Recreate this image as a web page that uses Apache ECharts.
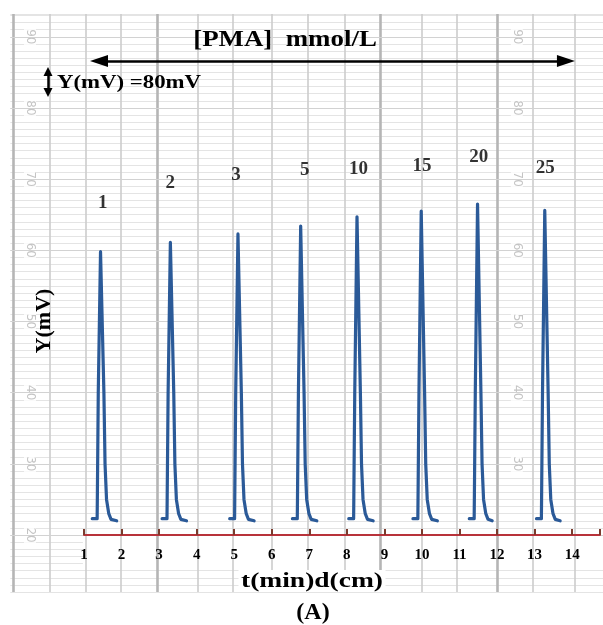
<!DOCTYPE html>
<html><head><meta charset="utf-8">
<script src="https://cdn.jsdelivr.net/npm/echarts@6/dist/echarts.min.js"></script>
<style>html,body{margin:0;padding:0;background:#fff}#c{width:603px;height:625px}</style>
</head><body><div id="c"></div>
<script>
// ---- data (t in min / d in cm, Y in mV) ----
const concentrations = ['1', '2', '3', '5', '10', '15', '20', '25'];
const labelT = [1.50, 3.30, 5.05, 6.88, 8.31, 10.00, 11.51, 13.28];
const labelY = [66.6, 69.4, 70.6, 71.2, 71.4, 71.9, 73.1, 71.6];

const trace_1  = [[1.22,22.3],[1.35,22.3],[1.355,25],[1.38,40],[1.44,59.8],[1.53,40],[1.56,30],[1.60,25],[1.66,23],[1.72,22.2],[1.87,22.0]];
const trace_2  = [[3.08,22.3],[3.21,22.3],[3.215,25],[3.24,40],[3.30,61.1],[3.39,40],[3.42,30],[3.46,25],[3.52,23],[3.58,22.2],[3.73,22.0]];
const trace_3  = [[4.88,22.3],[5.01,22.3],[5.015,25],[5.04,40],[5.10,62.3],[5.19,40],[5.22,30],[5.26,25],[5.32,23],[5.38,22.2],[5.53,22.0]];
const trace_5  = [[6.55,22.3],[6.68,22.3],[6.685,25],[6.71,40],[6.77,63.4],[6.86,40],[6.89,30],[6.93,25],[6.99,23],[7.05,22.2],[7.20,22.0]];
const trace_10 = [[8.05,22.3],[8.18,22.3],[8.185,25],[8.21,40],[8.27,64.7],[8.36,40],[8.39,30],[8.43,25],[8.49,23],[8.55,22.2],[8.70,22.0]];
const trace_15 = [[9.76,22.3],[9.89,22.3],[9.895,25],[9.92,40],[9.98,65.5],[10.07,40],[10.10,30],[10.14,25],[10.20,23],[10.26,22.2],[10.41,22.0]];
const trace_20 = [[11.26,22.3],[11.39,22.3],[11.395,25],[11.42,40],[11.48,66.5],[11.57,40],[11.60,30],[11.64,25],[11.70,23],[11.76,22.2],[11.87,22.0]];
const trace_25 = [[13.05,22.3],[13.18,22.3],[13.185,25],[13.21,40],[13.27,65.6],[13.36,40],[13.39,30],[13.43,25],[13.49,23],[13.55,22.2],[13.68,22.0]];
const traces = [trace_1, trace_2, trace_3, trace_5, trace_10, trace_15, trace_20, trace_25];

// recorder paper scale (printed on the chart paper)
const paperScaleLeft = [90, 80, 70, 60, 50, 40, 30, 20];
const paperScaleRight = [90, 80, 70, 60, 50, 40, 30];
const paperScaleLeftT = -0.43;
const paperScaleRightT = 12.46;
const paperLinesT = [0.10, 1.05, 1.98, 4.02, 4.94, 5.98, 6.93, 7.91, 9.95, 10.88, 12.89, 14.0];
const paperEdgesT = [-0.88, 2.93, 8.84, 11.93];

// annotation arrows
const concArrowT = [1.397, 13.76];
const concArrowY = 86.59;
const scaleArrowT = 0.047;
const scaleArrowY = [85.12, 82.17];

const SERIF = '"Liberation Serif", "DejaVu Serif", serif';
const chart = echarts.init(document.getElementById('c'), null, {renderer: 'canvas'});

const series = [];
// paper lines
series.push({
  type: 'line', xAxisIndex: 0, yAxisIndex: 0, data: [], silent: true, z: 1,
  markLine: {
    silent: true, symbol: 'none', label: {show: false}, animation: false,
    data: [
      ...paperLinesT.map(t => ({xAxis: t, lineStyle: {color: '#cccccc', width: 1.6, type: 'solid'}})),
      ...paperEdgesT.map(t => ({xAxis: t, lineStyle: {color: '#b5b5b5', width: 2.6, type: 'solid'}})),
      ...paperScaleLeft.map(v => ({yAxis: v, lineStyle: {color: '#d2d2d2', width: 1.2, type: 'solid'}}))
    ]
  }
});
// paper scale numbers
series.push({
  type: 'scatter', xAxisIndex: 0, yAxisIndex: 0, symbolSize: 0, silent: true, z: 2,
  data: [...paperScaleLeft.map(v => [paperScaleLeftT, v, v]), ...paperScaleRight.map(v => [paperScaleRightT, v, v])],
  label: {show: true, position: 'inside', rotate: -90, formatter: p => p.data[2], color: '#b5b5b5', fontSize: 12, fontFamily: 'DejaVu Sans', backgroundColor: '#fff', padding: [0, 2]}
});
// white band behind tick labels
series.push({
  type: 'line', xAxisIndex: 0, yAxisIndex: 0, data: [], silent: true, z: 3,
  markArea: {silent: true, itemStyle: {color: '#ffffff'}, data: [[{xAxis: 0.97, yAxis: 15.08}, {xAxis: 14.741, yAxis: 19.58}]]}
});
// arrows
series.push({
  type: 'line', xAxisIndex: 0, yAxisIndex: 0, data: [], silent: true, z: 8,
  markLine: {
    silent: true, animation: false, label: {show: false},
    symbol: ['triangle', 'triangle'],
    lineStyle: {color: '#000', width: 2.5, type: 'solid'},
    data: [
      [{coord: [concArrowT[0], concArrowY], symbolSize: [12, 18]}, {coord: [concArrowT[1], concArrowY], symbolSize: [12, 18]}],
      [{coord: [scaleArrowT, scaleArrowY[0]], symbolSize: [9, 9]}, {coord: [scaleArrowT, scaleArrowY[1]], symbolSize: [9, 9]}]
    ]
  }
});
// peaks
traces.forEach((tr, i) => {
  series.push({
    type: 'line', name: concentrations[i], xAxisIndex: 1, yAxisIndex: 1, data: tr,
    showSymbol: false, symbol: 'none', z: 6,
    lineStyle: {color: '#2b5a98', width: 3.2, join: 'round', cap: 'round'}
  });
});
// concentration labels
series.push({
  type: 'scatter', xAxisIndex: 1, yAxisIndex: 1, symbolSize: 0, z: 9,
  data: concentrations.map((c, i) => [labelT[i], labelY[i], c]),
  label: {show: true, position: 'inside', formatter: p => p.data[2], color: '#000', fontSize: 19, fontWeight: 'bold', fontFamily: SERIF}
});

chart.setOption({
  animation: false,
  backgroundColor: '#fff',
  grid: [
    {left: 10.35, right: 0, top: 14, bottom: 33},
    {left: 84, right: 0, top: 14, bottom: 90}
  ],
  xAxis: [
    {type: 'value', gridIndex: 0, min: -0.95, max: 14.741, show: false},
    {type: 'value', gridIndex: 1, min: 1, max: 14.741, interval: 1, z: 10,
     axisLine: {show: true, onZero: false, lineStyle: {color: '#b8323a', width: 2}},
     axisTick: {show: true, inside: true, length: 6, lineStyle: {color: '#7a3b2e', width: 2}},
     axisLabel: {color: '#000', fontSize: 15, fontWeight: 'bold', fontFamily: SERIF, margin: 13,
                 formatter: v => Number.isInteger(v) ? String(v) : '', showMaxLabel: true},
     splitLine: {show: false}}
  ],
  yAxis: [
    {type: 'value', gridIndex: 0, min: 12, max: 93.2, interval: 1,
     axisLine: {show: false}, axisTick: {show: false}, axisLabel: {show: false},
     splitLine: {show: true, lineStyle: {color: '#e4e4e4', width: 1}}},
    {type: 'value', gridIndex: 1, min: 20, max: 93.2, show: false}
  ],
  graphic: [
    {type: 'text', x: 285, y: 40, scaleX: 1.12, z: 20, style: {text: '[PMA]  mmol/L', font: 'bold 24px ' + SERIF, fill: '#000', align: 'center', verticalAlign: 'middle'}},
    {type: 'text', x: 57, y: 83, scaleX: 1.2, z: 20, style: {text: 'Y(mV) =80mV', font: 'bold 19px ' + SERIF, fill: '#000', align: 'left', verticalAlign: 'middle'}},
    {type: 'text', x: 44, y: 321, rotation: Math.PI / 2, z: 20, style: {text: 'Y(mV)', font: 'bold 22px ' + SERIF, fill: '#000', align: 'center', verticalAlign: 'middle'}},
    {type: 'text', x: 312, y: 581, scaleX: 1.25, z: 20, style: {text: 't(min)d(cm)', font: 'bold 22px ' + SERIF, fill: '#000', align: 'center', verticalAlign: 'middle', backgroundColor: '#fff', padding: [0, 2]}},
    {type: 'text', x: 313, y: 613, z: 20, style: {text: '(A)', font: 'bold 24px ' + SERIF, fill: '#000', align: 'center', verticalAlign: 'middle'}}
  ],
  series: series
});
</script>
</body></html>
